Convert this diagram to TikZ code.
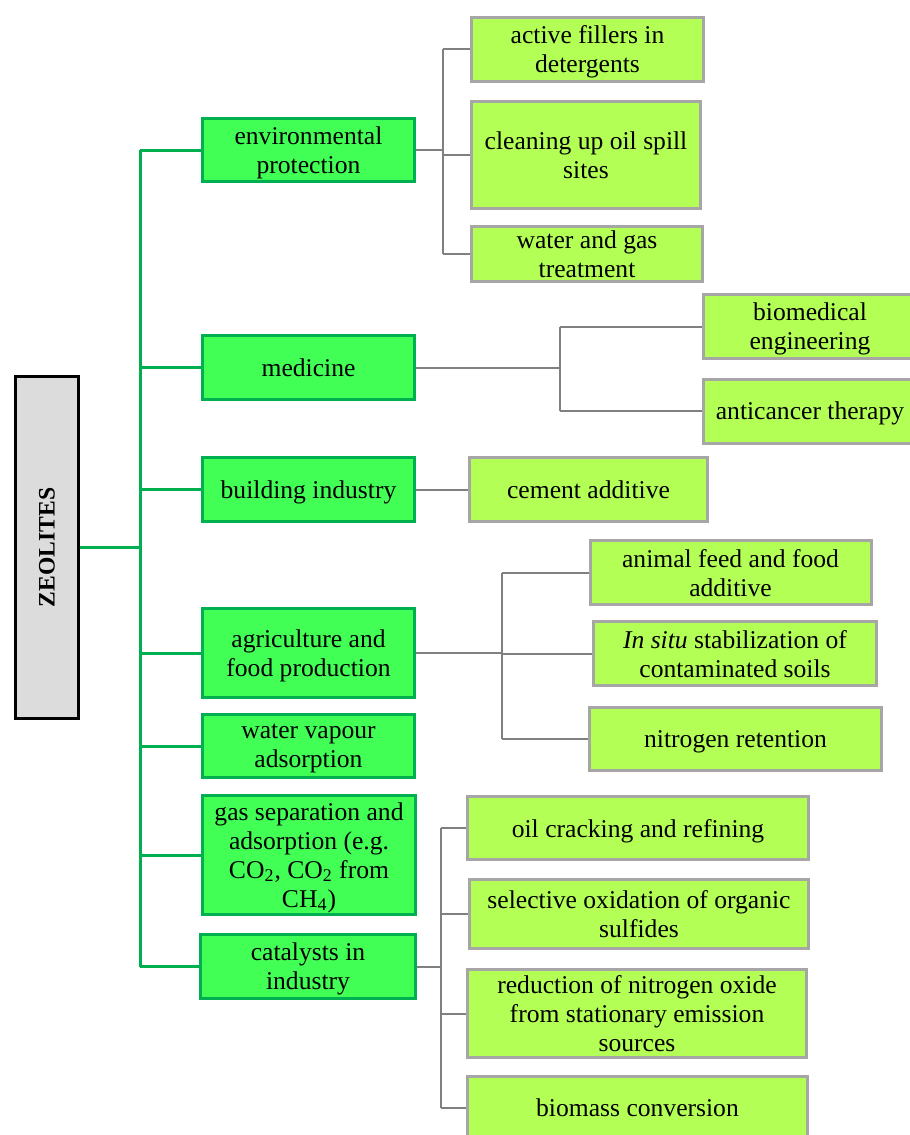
\documentclass[tikz,border=0pt]{standalone}
\usepackage{fontspec}
\setmainfont{Liberation Serif}
\definecolor{gfill}{RGB}{66,255,85}
\definecolor{gline}{RGB}{0,176,80}
\definecolor{lfill}{RGB}{179,255,85}
\definecolor{lline}{RGB}{166,166,166}
\definecolor{conn}{RGB}{128,128,128}
\definecolor{zfill}{RGB}{220,220,220}
\tikzset{
  sz/.style 2 args={minimum width=#1*0.5pt, minimum height=#2*0.5pt},
  base/.style={rectangle, align=center, inner sep=1pt, text depth=0pt, font=\fontsize{12.8}{14.5}\selectfont, text=black},
  catbox/.style={base, fill=gfill, draw=gline, line width=1.5pt},
  subbox/.style={base, fill=lfill, draw=lline, line width=1.5pt},
  rootbox/.style={base, fill=zfill, draw=black, line width=1.5pt, font=\fontsize{11.8}{14}\selectfont},
  gconn/.style={draw=gline, line width=1.5pt},
  sconn/.style={draw=conn, line width=1pt},
}
\begin{document}
\begin{tikzpicture}[x=0.5pt,y=-0.5pt]
\useasboundingbox (0,0) rectangle (910,1135);
% root
\node[rootbox, sz={63}{342}] (zeo) at (47,547.5) {\rotatebox{90}{\textbf{ZEOLITES}}};
% categories
\node[catbox, sz={212}{63}] (env) at (308.5,150) {environmental\\protection};
\node[catbox, sz={212}{64}] (med) at (308.5,367.5) {medicine};
\node[catbox, sz={212}{64}] (bld) at (308.5,489.5) {building industry};
\node[catbox, sz={212}{89}] (agr) at (308.5,653) {agriculture and\\food production};
\node[catbox, sz={212}{63}] (wat) at (308.5,746) {water vapour\\adsorption};
\node[catbox, sz={213}{119}] (gas) at (309,855) {gas separation and\\adsorption (e.g.\\CO\textsubscript{2}, CO\textsubscript{2} from\\CH\textsubscript{4})};
\node[catbox, sz={215}{64}] (cat) at (308,966.5) {catalysts in\\industry};
% subs
\node[subbox, sz={232}{64}] (a1) at (587.5,49) {active fillers in\\detergents};
\node[subbox, sz={229}{107}] (a2) at (586,155) {cleaning up oil spill\\sites};
\node[subbox, sz={231}{55}] (a3) at (587,254) {water and gas\\treatment};
\node[subbox, sz={213}{64}] (m1) at (810,326.5) {biomedical\\engineering};
\node[subbox, sz={213}{64}] (m2) at (810,411) {anticancer therapy};
\node[subbox, sz={238}{64}] (b1) at (588.5,489.5) {cement additive};
\node[subbox, sz={281}{64}] (f1) at (730.5,572.5) {animal feed and food\\additive};
\node[subbox, sz={283}{64}] (f2) at (735,653.5) {\textit{In situ} stabilization of\\contaminated soils};
\node[subbox, sz={292}{63}] (f3) at (735.5,739) {nitrogen retention};
\node[subbox, sz={341}{63}] (c1) at (638,828) {oil cracking and refining};
\node[subbox, sz={339}{69}] (c2) at (639,914) {selective oxidation of organic\\sulfides};
\node[subbox, sz={339}{88}] (c3) at (637,1013.5) {reduction of nitrogen oxide\\from stationary emission\\sources};
\node[subbox, sz={340}{63}] (c4) at (637.5,1108) {biomass conversion};
% junctions
\coordinate (gt) at (140,547.5);
\coordinate (je) at (443,150);
\coordinate (jm) at (560,367.5);
\coordinate (jf) at (502,653);
\coordinate (jc) at (441,966.5);
% green tree
\draw[gconn] (zeo.east) -- (gt);
\draw[gconn] (gt |- env.west) -- (gt |- cat.west);
\foreach \n in {env,med,bld,agr,wat,gas,cat} \draw[gconn] (gt |- \n.west) -- (\n.west);
% environmental
\draw[sconn] (env.east) -- (je);
\draw[sconn] (je |- a1.west) -- (je |- a3.west);
\foreach \n in {a1,a2,a3} \draw[sconn] (je |- \n.west) -- (\n.west);
% medicine
\draw[sconn] (med.east) -- (jm);
\draw[sconn] (jm |- m1.west) -- (jm |- m2.west);
\foreach \n in {m1,m2} \draw[sconn] (jm |- \n.west) -- (\n.west);
% building
\draw[sconn] (bld.east) -- (b1.west);
% agriculture
\draw[sconn] (agr.east) -- (jf);
\draw[sconn] (jf |- f1.west) -- (jf |- f3.west);
\foreach \n in {f1,f2,f3} \draw[sconn] (jf |- \n.west) -- (\n.west);
% catalysts
\draw[sconn] (cat.east) -- (jc);
\draw[sconn] (jc |- c1.west) -- (jc |- c4.west);
\foreach \n in {c1,c2,c3,c4} \draw[sconn] (jc |- \n.west) -- (\n.west);
\end{tikzpicture}
\end{document}
